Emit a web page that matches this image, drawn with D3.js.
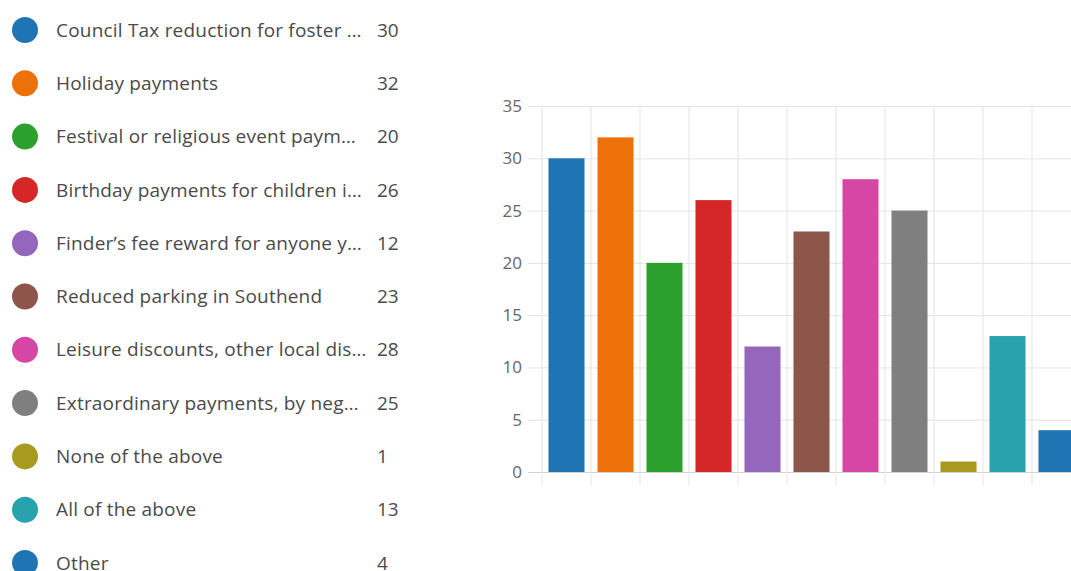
<!DOCTYPE html>
<html>
<head>
<meta charset="utf-8">
<script src="https://cdn.jsdelivr.net/npm/d3@7"></script>
<style>
  body { margin: 0; background: #fff; }
  svg { display: block; font-family: 'Open Sans', 'Noto Sans', sans-serif; }
</style>
</head>
<body>
<svg id="chart" width="1071" height="571"></svg>
<script>
// data
var labels = [
  'Council Tax reduction for foster …',
  'Holiday payments',
  'Festival or religious event paym…',
  'Birthday payments for children i…',
  'Finder\u2019s fee reward for anyone y…',
  'Reduced parking in Southend',
  'Leisure discounts, other local dis…',
  'Extraordinary payments, by neg…',
  'None of the above',
  'All of the above',
  'Other'
]
var counts = [30, 32, 20, 26, 12, 23, 28, 25, 1, 13, 4]
var colors = ['#1f74b4', '#eb7108', '#2ca02c', '#d62728', '#9467bd', '#8c564b',
  '#d647a5', '#7f7f7f', '#a89a1f', '#28a2ad', '#1f74b4']
var yTicks = [0, 5, 10, 15, 20, 25, 30, 35]

var svg = d3.select('#chart')

// legend on the left
var rowScale = d3.scalePoint()
  .domain(d3.range(labels.length))
  .range([30, 563])

var legend = svg.append('g').attr('class', 'legend')
var rows = legend.selectAll('.row')
  .data(labels)
  .enter()
  .append('g')
  .attr('class', 'row')
  .attr('transform', function(d, i) { return 'translate(0,' + rowScale(i) + ')' })

rows.append('circle')
  .attr('cx', 25)
  .attr('cy', 0)
  .attr('r', 13)
  .attr('fill', function(d, i) { return colors[i] })

rows.append('text')
  .text(function(d) { return d })
  .attr('x', 56)
  .attr('dy', '0.35em')
  .attr('font-size', '19px')
  .attr('letter-spacing', '0.2px')
  .attr('fill', '#4a4a4a')

rows.append('text')
  .text(function(d, i) { return counts[i] })
  .attr('x', 377)
  .attr('dy', '0.35em')
  .attr('font-size', '19px')
  .attr('fill', '#4a4a4a')

// bar chart on the right (runs off the right edge like the original)
var xPositionScale = d3.scaleBand()
  .domain(d3.range(labels.length))
  .range([542, 542 + 49 * labels.length])
  .padding(0)

var yPositionScale = d3.scaleLinear()
  .domain([0, 35])
  .range([472, 106])

var plot = svg.append('g').attr('class', 'plot')

var yAxis = d3.axisLeft(yPositionScale)
  .tickValues(yTicks)
  .tickSize(-(xPositionScale.range()[1] - 528))
  .tickPadding(6)

plot.append('g')
  .attr('class', 'axis y-axis')
  .attr('transform', 'translate(528,0)')
  .call(yAxis)
  .call(function(g) {
    g.select('.domain').remove()
    g.selectAll('line').attr('stroke', '#e3e3e3')
    g.selectAll('.tick').filter(function(d) { return d === 0 })
      .select('line').attr('stroke', '#d2d2d2')
    g.selectAll('text')
      .attr('fill', '#666')
      .attr('font-size', '17px')
      .attr('font-family', "'Open Sans', sans-serif")
  })

// vertical grid lines at the band edges
var edges = xPositionScale.domain().map(function(d) { return xPositionScale(d) })
edges.push(xPositionScale.range()[1])

plot.selectAll('.v-grid')
  .data(edges)
  .enter()
  .append('line')
  .attr('class', 'v-grid')
  .attr('x1', function(d) { return d })
  .attr('x2', function(d) { return d })
  .attr('y1', yPositionScale(35))
  .attr('y2', yPositionScale(0) + 13)
  .attr('stroke', '#e3e3e3')

var barWidth = xPositionScale.bandwidth() * 0.735

plot.selectAll('.bar')
  .data(counts)
  .enter()
  .append('rect')
  .attr('class', 'bar')
  .attr('x', function(d, i) { return xPositionScale(i) + (xPositionScale.bandwidth() - barWidth) / 2 })
  .attr('width', barWidth)
  .attr('y', function(d) { return yPositionScale(d) })
  .attr('height', function(d) { return yPositionScale(0) - yPositionScale(d) })
  .attr('fill', function(d, i) { return colors[i] })
</script>
</body>
</html>
